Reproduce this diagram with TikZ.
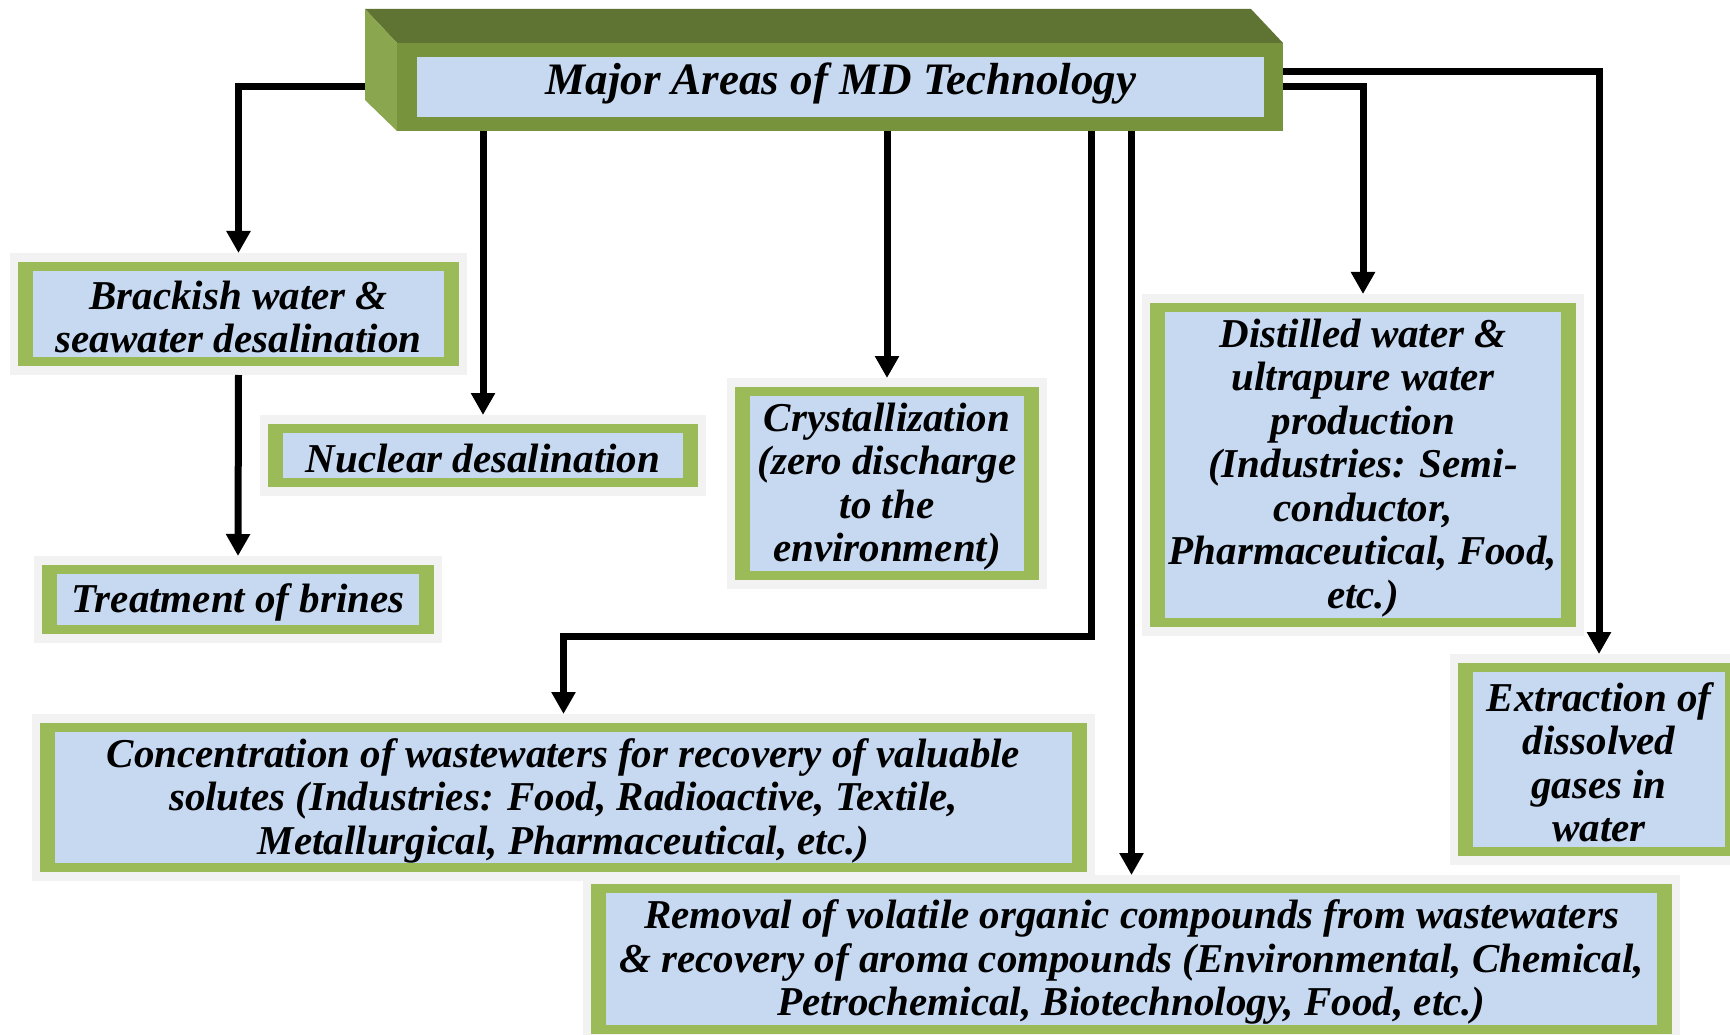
\documentclass[tikz,border=0pt]{standalone}
\usepackage{fontspec}
\setmainfont{Liberation Serif}
\usetikzlibrary{arrows.meta,calc,backgrounds}
\definecolor{halo}{HTML}{F2F2F2}
\definecolor{boxgreen}{HTML}{9BBB59}
\definecolor{boxblue}{HTML}{C6D9F1}
\definecolor{topfront}{HTML}{77933C}
\definecolor{toptop}{HTML}{5F7433}
\definecolor{topside}{HTML}{8AA64F}
\tikzset{
  mdtext/.style={font=\fontsize{41}{43.5}\selectfont\bfseries\itshape, align=center},
  mdbox/.style={mdtext, rectangle, inner sep=0pt, outer xsep=0pt, outer ysep=18pt},
  arr/.style={line width=7pt, -{Triangle[width=23pt,length=22pt]}, line join=miter},
}
\newcommand\mdbox[6]{%
  \begin{scope}[on background layer]
    \fill[halo] (#2-23,#3-18) rectangle (#4+23,#5+18);
    \fill[boxgreen] (#2-15,#3-9) rectangle (#4+15,#5+9);
    \fill[boxblue] (#2,#3) rectangle (#4,#5);
  \end{scope}
  \node[mdbox, minimum width={#4pt-#2pt}, minimum height={#5pt-#3pt}] (#1) at ({(#2+#4)/2},{(#3+#5)/2+3}) {#6};
}
\begin{document}
\begin{tikzpicture}[x=1pt,y=-1pt]
\useasboundingbox (0,0) rectangle (1730,1035);
\clip (0,0) rectangle (1730,1035);
\begin{scope}[on background layer]
  \fill[white] (0,0) rectangle (1730,1035);
\end{scope}

% top 3D box
\fill[toptop] (365,9) -- (1251,9) -- (1283,43) -- (397,43) -- cycle;
\fill[topside] (365,9) -- (397,43) -- (397,131) -- (365,100) -- cycle;
\node[fill=topfront, rectangle, minimum width=886pt, minimum height=88pt, inner sep=0pt, outer sep=0pt] (top) at (840,87) {};
\node[fill=boxblue, rectangle, minimum width=847pt, minimum height=60pt, inner sep=0pt] (topin) at (840.5,87) {};
\node[font=\fontsize{45}{50}\selectfont\bfseries\itshape, anchor=base, inner sep=0pt] (toptext) at (841,95) {Major Areas of MD Technology};

% boxes
\mdbox{brack}{33}{271}{444}{357}{Brackish water \&\\seawater desalination}
\mdbox{nuc}{283}{433}{683}{478}{Nuclear desalination}
\mdbox{treat}{57}{574}{419}{625}{Treatment of brines}
\mdbox{crys}{750}{396}{1024}{571}{Crystallization\\(zero discharge\\to the\\environment)}
\mdbox{dist}{1165}{312}{1561}{618}{Distilled water \&\\ultrapure water\\production\\(Industries: Semi-\\conductor,\\Pharmaceutical, Food,\\etc.)}
\mdbox{ext}{1473}{672}{1725}{847}{Extraction of\\dissolved\\gases in\\water}
\mdbox{conc}{55}{732}{1072}{863}{Concentration of wastewaters for recovery of valuable\\solutes (Industries: Food, Radioactive, Textile,\\Metallurgical, Pharmaceutical, etc.)}
\mdbox{rem}{606}{893}{1657}{1025}{Removal of volatile organic compounds from wastewaters\\\& recovery of aroma compounds (Environmental, Chemical,\\Petrochemical, Biotechnology, Food, etc.)}

% connectors
\coordinate (topL) at (365,87);
\coordinate (topR) at (1283,72);
\coordinate (cbend) at (1091,636);
\draw[arr] (topL) -| ([yshift=3pt]brack.north);
\draw[arr] (top.south -| nuc.north) -- ([yshift=3pt]nuc.north);
\draw[arr] (top.south -| crys.north) -- ([yshift=3pt]crys.north);
\draw[arr] (top.south -| cbend) -- (cbend) -| ([yshift=3pt]conc.north);
\draw[arr] (top.south -| rem.north) -- ([yshift=3pt]rem.north);
\draw[arr] (top.east) -| ([yshift=3pt]dist.north);
\draw[arr] (topR) -| ([yshift=3pt]ext.north);
\draw[arr] ([yshift=3pt]brack.south) -- ([yshift=3pt]treat.north);
\end{tikzpicture}
\end{document}
